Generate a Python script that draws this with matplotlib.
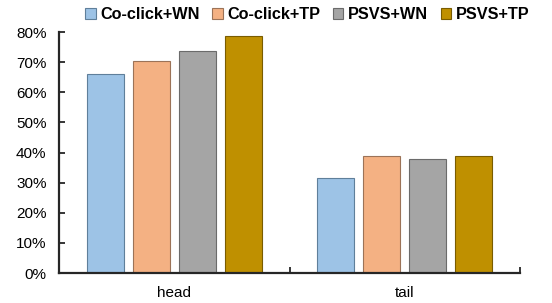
import matplotlib
matplotlib.use("Agg")
import matplotlib.pyplot as plt
import numpy as np
from matplotlib.ticker import FuncFormatter, FixedLocator

plt.rcParams["font.family"] = ["Liberation Sans", "DejaVu Sans"]

# ── Data ──────────────────────────────────────────────────────────────────
categories = ["head", "tail"]
series = ["Co-click+WN", "Co-click+TP", "PSVS+WN", "PSVS+TP"]
cocl_wn = [0.66, 0.315]
cocl_tp = [0.703, 0.39]
psvs_wn = [0.738, 0.38]
psvs_tp = [0.787, 0.39]

colors = ["#9DC3E6", "#F4B183", "#A5A5A5", "#BF9000"]
edges = ["#5F7F9A", "#9C7358", "#6B6B6B", "#7A5C00"]

fig = plt.figure(figsize=(5.52, 3.03), dpi=100)
ax = fig.add_axes([0.107, 0.099, 0.835, 0.795])

x = np.arange(len(categories))
width = 0.16
step = 0.2
for i, vals in enumerate([cocl_wn, cocl_tp, psvs_wn, psvs_tp]):
    ax.bar(x + (i - 1.5) * step, vals, width=width, color=colors[i],
           edgecolor=edges[i], linewidth=0.8, label=series[i])

ax.set_xlim(-0.5, 1.5)
ax.set_ylim(0, 0.8)
ax.set_yticks(np.arange(0, 0.81, 0.1))
ax.yaxis.set_major_formatter(FuncFormatter(lambda v, _: f"{v*100:.0f}%"))
ax.set_xticks(x)
ax.set_xticklabels(categories, fontsize=11)
ax.xaxis.set_minor_locator(FixedLocator([-0.5, 0.5, 1.5]))
ax.tick_params(axis="x", which="major", length=0, pad=9)
ax.tick_params(axis="x", which="minor", direction="in", length=4,
               width=1.3, color="#262626")
ax.tick_params(axis="y", direction="in", length=4, width=1.3,
               color="#262626", labelsize=11, pad=9)

for s in ["top", "right"]:
    ax.spines[s].set_visible(False)
for s in ["left", "bottom"]:
    ax.spines[s].set_linewidth(1.6)
    ax.spines[s].set_color("#262626")

leg = fig.legend(loc="upper center", bbox_to_anchor=(0.557, 1.025), ncol=4,
                 frameon=False, prop={"weight": "bold", "size": 11.7},
                 handlelength=0.65, handleheight=0.65, handletextpad=0.3,
                 columnspacing=0.75)

plt.savefig("out.png", dpi=100)
plt.close()
